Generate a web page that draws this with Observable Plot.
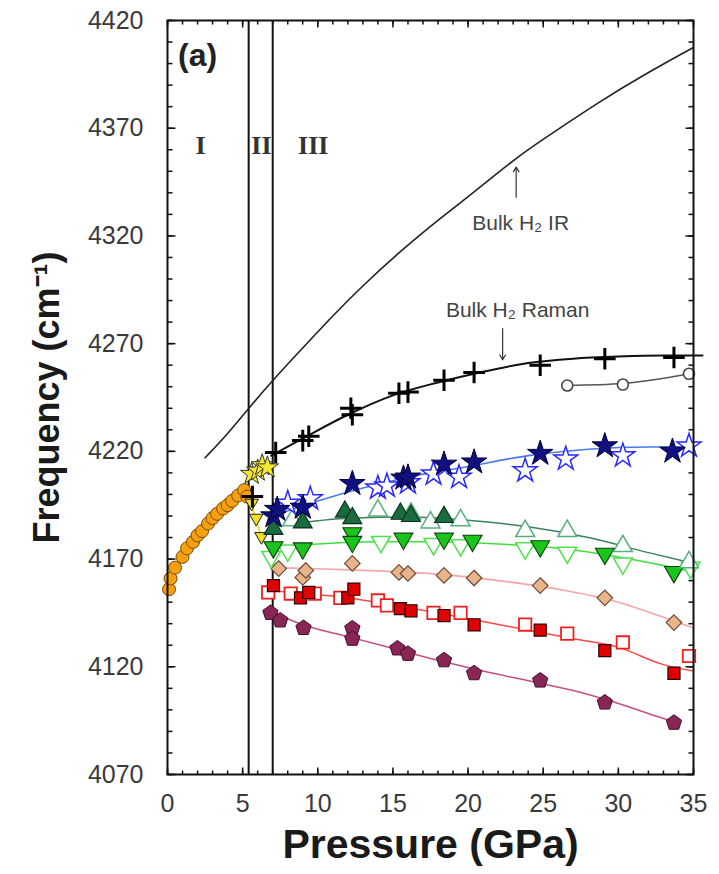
<!DOCTYPE html>
<html>
<head>
<meta charset="utf-8">
<script src="https://cdn.jsdelivr.net/npm/d3@7"></script>
<script src="https://cdn.jsdelivr.net/npm/@observablehq/plot@0.6"></script>
<style>
  html, body { margin: 0; padding: 0; background: #fff; }
  #chart svg { display: block; }
</style>
</head>
<body>
<div id="chart"></div>
<script>
// ---- data: [pressure (GPa), frequency (cm^-1)] ----
const orangeCircles = [[0.1,4156],[0.2,4161],[0.5,4166],[1.0,4171],[1.3,4175],[1.7,4178],[2.0,4181],[2.3,4183],[2.7,4186.5],[3.0,4189],[3.3,4191],[3.7,4193.5],[4.0,4195],[4.3,4197],[4.7,4199.5],[5.1,4202],[5.3,4199]];
const yellowStars = [[5.6,4209.5],[6.0,4211],[6.3,4213.5],[6.65,4212.5]];
const yellowDown = [[5.6,4196],[5.9,4189],[6.25,4180.5]];
const ramanPlus = [[5.65,4199],[7.2,4219.5],[9.0,4225],[9.4,4227],[12.2,4240],[12.3,4237],[15.4,4247],[16.0,4247.5],[18.4,4253],[20.4,4256.6],[24.8,4260],[29.1,4263],[33.7,4263.6]];
const grayCircles = [[26.6,4250.6],[30.3,4251],[34.7,4256]];
const blueFilled = [[7.05,4190],[7.3,4193],[9.0,4194],[12.3,4205],[15.7,4207.5],[16.0,4208],[18.4,4214],[20.4,4215],[24.8,4219],[29.1,4222.5],[33.6,4220]];
const blueOpen = [[8.0,4196],[9.5,4198],[14.0,4203],[14.6,4204],[16.0,4205.5],[17.7,4209.5],[19.4,4208],[23.8,4211],[26.5,4216.5],[30.3,4218],[34.7,4222.5]];
const dkGreenUp = [[7.05,4184],[9.0,4187],[11.8,4192],[12.3,4189],[15.5,4191],[16.2,4190],[18.4,4189.5]];
const ltGreenUpOpen = [[8.3,4188],[14.0,4192.5],[16.2,4191],[17.5,4187],[19.5,4188],[23.8,4183],[26.6,4183],[30.3,4176],[34.7,4168.5]];
const greenDown = [[7.05,4175.5],[9.0,4175],[12.3,4182],[12.3,4178],[15.7,4179.5],[18.4,4179.5],[20.3,4178.5],[24.8,4176],[29.1,4172.5],[33.7,4164]];
const greenDownOpen = [[6.9,4171],[8.0,4174],[14.2,4178],[17.7,4177],[19.5,4176.5],[23.8,4175],[26.6,4173],[30.3,4168],[34.8,4166]];
const diamonds = [[7.4,4165.6],[9.0,4161.5],[9.2,4164.7],[12.3,4168],[15.4,4163.8],[16.0,4163.3],[18.4,4162.4],[20.4,4161.2],[24.8,4157.7],[29.1,4152],[33.7,4140.5]];
const redFilled = [[7.05,4157.7],[8.85,4152],[9.4,4154.5],[12.0,4152],[12.4,4156],[15.5,4147],[16.2,4146],[18.4,4143.8],[20.4,4139.5],[24.8,4137],[29.1,4127.5],[33.7,4117]];
const redOpen = [[6.7,4154.5],[8.2,4154],[9.8,4154],[11.5,4152],[14.0,4150.8],[14.6,4148.5],[17.7,4145],[19.5,4145],[23.8,4139.6],[26.6,4135.4],[30.3,4131.3],[34.7,4125]];
const pentagons = [[6.85,4145],[7.5,4141.5],[9.05,4138],[12.3,4137.8],[12.3,4133],[15.3,4128.5],[16.0,4126],[18.4,4123],[20.4,4117],[24.8,4113.6],[29.1,4103.4],[33.7,4094]];

// fitted curves
const irCurve = [[2.5,4217],[4,4228],[5.4,4240],[7,4253],[9,4268],[11,4283],[13,4297],[15.5,4313],[18.2,4328.5],[20.8,4342.5],[23.5,4358],[26.1,4370],[28.8,4382.5],[31.5,4394],[35,4407.5]];
const ramanFit = [[6.9,4218],[9,4226],[12,4237],[15,4246],[18,4252],[21,4257],[24,4261],[27,4263],[30,4264],[33,4264.5],[35.6,4264.5]];
const grayFit = [[26.6,4250.6],[30.3,4251.5],[34.7,4256]];
const blueFit = [[7,4190],[10,4197],[13,4203],[16,4208],[20,4213],[24,4218],[28,4221],[32,4222],[35,4222]];
const dkGreenFit = [[7,4185],[9,4187],[12,4189],[16,4189.5],[20,4188],[24,4185],[28,4180],[32,4173],[35,4168]];
const greenFit = [[7,4175],[10,4177],[14,4178],[18,4178],[22,4177],[26,4175],[30,4171],[33,4167],[35,4164]];
const pinkFit = [[7,4166],[10,4165.5],[14,4164.5],[18,4163],[22,4160],[26,4156],[30,4150],[33,4143],[35,4138]];
const redFit = [[6.7,4155.5],[9,4154],[12,4152],[15,4148.5],[18,4145],[21,4141],[24,4137],[27,4133],[30,4129],[33,4121],[35,4118]];
const pentFit = [[6.8,4146],[9,4139.5],[12,4134],[15,4128.5],[18,4123],[21,4118],[24,4113.5],[27,4109],[30,4103],[33,4096],[34,4094]];
const yellowFit = [[5.5,4197],[6.25,4180]];

const phaseBounds = [5.4, 7.0];
const phaseLabels = [{p: 2.2, f: 4362, t: "I"}, {p: 6.25, f: 4362, t: "II"}, {p: 9.7, f: 4362, t: "III"}];
const notes = [{p: 23.3, f: 4285.5, t: "Bulk H₂ Raman"}, {p: 23.5, f: 4326, t: "Bulk H₂ IR"}];
const arrows = [{p: 22.3, f1: 4277, f2: 4262.5}, {p: 23.2, f1: 4338, f2: 4352}];
const panelTag = [{p: 2.0, f: 4403.5, t: "(a)"}];

const xMajor = d3.range(0, 36, 5);
const xMinor = d3.range(0, 36, 1);
const yMajor = d3.range(4070, 4421, 50);
const yMinor = d3.range(4070, 4421, 10);

const pts = a => a.map(([p, f]) => ({p, f}));

const pentagon = {
  draw(ctx, size) {
    const R = Math.sqrt(size / 2.378);
    for (let i = 0; i < 5; i++) {
      const a = -Math.PI / 2 + i * 2 * Math.PI / 5;
      const x = R * Math.cos(a), y = R * Math.sin(a);
      if (i === 0) ctx.moveTo(x, y); else ctx.lineTo(x, y);
    }
    ctx.closePath();
  }
};
// tick-shaped symbols (inward ticks)
const tickSym = (dx, dy) => ({draw(ctx) { ctx.moveTo(0, 0); ctx.lineTo(dx, dy); }});

const W = 719, H = 874, mL = 167, mR = 26, mT = 20, mB = 100;

const line = (data, stroke, strokeWidth = 1.5) =>
  Plot.line(pts(data), {x: "p", y: "f", stroke, strokeWidth, curve: "monotone-x"});
const ticks = (data, ch, anchor, sym) =>
  Plot.dot(data, {[ch]: d => d, frameAnchor: anchor, symbol: sym, fill: "none", stroke: "#111", strokeWidth: 1.5});

const chart = Plot.plot({
  width: W, height: H,
  marginLeft: mL, marginRight: mR, marginTop: mT, marginBottom: mB,
  style: {fontFamily: "'Liberation Sans', Arial, sans-serif", background: "#fff"},
  x: {domain: [0, 35], axis: null},
  y: {domain: [4070, 4420], axis: null},
  marks: [
    // inward ticks on all four sides
    ticks(xMinor, "x", "bottom", tickSym(0, -4)),
    ticks(xMajor, "x", "bottom", tickSym(0, -7)),
    ticks(xMinor, "x", "top", tickSym(0, 4)),
    ticks(xMajor, "x", "top", tickSym(0, 7)),
    ticks(yMinor, "y", "left", tickSym(5, 0)),
    ticks(yMajor, "y", "left", tickSym(8, 0)),
    ticks(yMinor, "y", "right", tickSym(-5, 0)),
    ticks(yMajor, "y", "right", tickSym(-8, 0)),
    // tick labels
    Plot.axisX(xMajor, {anchor: "bottom", tickSize: 0, tickPadding: 20, fontSize: 25, fill: "#3a3a3a", tickFormat: d => String(d), label: null}),
    Plot.axisY(yMajor, {anchor: "left", tickSize: 0, tickPadding: 24, fontSize: 25, fill: "#3a3a3a", tickFormat: d => String(d), label: null}),
    // axis titles
    Plot.text(["Pressure (GPa)"], {frameAnchor: "bottom", lineAnchor: "middle", dy: 70, text: d => d, fontSize: 41, fontWeight: "bold", fill: "#1a1a1a"}),
    Plot.text(["Frequency (cm⁻¹)"], {frameAnchor: "left", textAnchor: "middle", lineAnchor: "middle", dx: -120, rotate: -90, text: d => d, fontSize: 36, fontWeight: "bold", fill: "#1a1a1a"}),

    // phase boundaries
    Plot.ruleX(phaseBounds, {x: d => d, stroke: "#111", strokeWidth: 2}),

    // fitted curves
    Plot.line(pts(irCurve), {x: "p", y: "f", stroke: "#222", strokeWidth: 1.6, curve: "basis"}),
    line(ramanFit, "#111", 2),
    line(grayFit, "#555", 1.5),
    line(blueFit, "#4a78e6", 1.6),
    line(dkGreenFit, "#3d8060", 1.5),
    line(greenFit, "#3ee03e", 1.5),
    line(pinkFit, "#f4a6a6", 1.6),
    line(redFit, "#ff4a4a", 1.5),
    line(pentFit, "#c4507e", 1.5),
    line(yellowFit, "#e8e020", 2),

    // markers
    Plot.dot(pts(orangeCircles), {x: "p", y: "f", r: 6.5, fill: "#f5a00f", stroke: "#7a4a00", strokeWidth: 1}),
    Plot.dot(pts(yellowDown), {x: "p", y: "f", symbol: "triangle", rotate: 180, r: 5, fill: "#f0e020", stroke: "#222", strokeWidth: 1}),
    Plot.dot(pts(yellowStars), {x: "p", y: "f", symbol: "star", r: 7, fill: "#f5e830", stroke: "#333", strokeWidth: 1}),
    Plot.dot(pts(grayCircles), {x: "p", y: "f", symbol: "circle", r: 5.5, fill: "#fff", stroke: "#444", strokeWidth: 1.6}),
    Plot.dot(pts(pentagons), {x: "p", y: "f", symbol: pentagon, r: 7, fill: "#8a2657", stroke: "#40102a", strokeWidth: 1}),
    Plot.dot(pts(redOpen), {x: "p", y: "f", symbol: "square", r: 7, fill: "#fff", stroke: "#f02020", strokeWidth: 1.8}),
    Plot.dot(pts(redFilled), {x: "p", y: "f", symbol: "square", r: 6.8, fill: "#e00000", stroke: "#300000", strokeWidth: 1.2}),
    Plot.dot(pts(diamonds), {x: "p", y: "f", symbol: "diamond2", r: 7, fill: "#e9b48a", stroke: "#6a4a3a", strokeWidth: 1.2}),
    Plot.dot(pts(greenDownOpen), {x: "p", y: "f", symbol: "triangle", rotate: 180, r: 7, fill: "#fff", stroke: "#50e050", strokeWidth: 1.5}),
    Plot.dot(pts(greenDown), {x: "p", y: "f", symbol: "triangle", rotate: 180, r: 7, fill: "#1bc41b", stroke: "#0a400a", strokeWidth: 1.1}),
    Plot.dot(pts(ltGreenUpOpen), {x: "p", y: "f", symbol: "triangle", r: 7, fill: "#fff", stroke: "#55b07a", strokeWidth: 1.5}),
    Plot.dot(pts(dkGreenUp), {x: "p", y: "f", symbol: "triangle", r: 7, fill: "#1a6b3e", stroke: "#0a3018", strokeWidth: 1.1}),
    Plot.dot(pts(blueOpen), {x: "p", y: "f", symbol: "star", r: 7.5, fill: "#fff", stroke: "#2828ff", strokeWidth: 1.5}),
    Plot.dot(pts(blueFilled), {x: "p", y: "f", symbol: "star", r: 8, fill: "#101080", stroke: "#000030", strokeWidth: 1}),
    Plot.dot(pts(ramanPlus), {x: "p", y: "f", symbol: "plus", r: 7, stroke: "#000", strokeWidth: 3}),

    // annotations
    Plot.text(phaseLabels, {x: "p", y: "f", text: "t", fontSize: 26, fontWeight: "bold", fill: "#333", fontFamily: "'Liberation Serif', 'DejaVu Serif', serif"}),
    Plot.text(notes, {x: "p", y: "f", text: "t", fontSize: 21, fill: "#444"}),
    Plot.arrow(arrows, {x: "p", y1: "f1", y2: "f2", stroke: "#333", strokeWidth: 1.2, headLength: 7}),
    Plot.text(panelTag, {x: "p", y: "f", text: "t", fontSize: 32, fontWeight: "bold", fill: "#222"}),

    // frame
    Plot.frame({stroke: "#111", strokeWidth: 2})
  ]
});
document.getElementById("chart").append(chart);
</script>
</body>
</html>
